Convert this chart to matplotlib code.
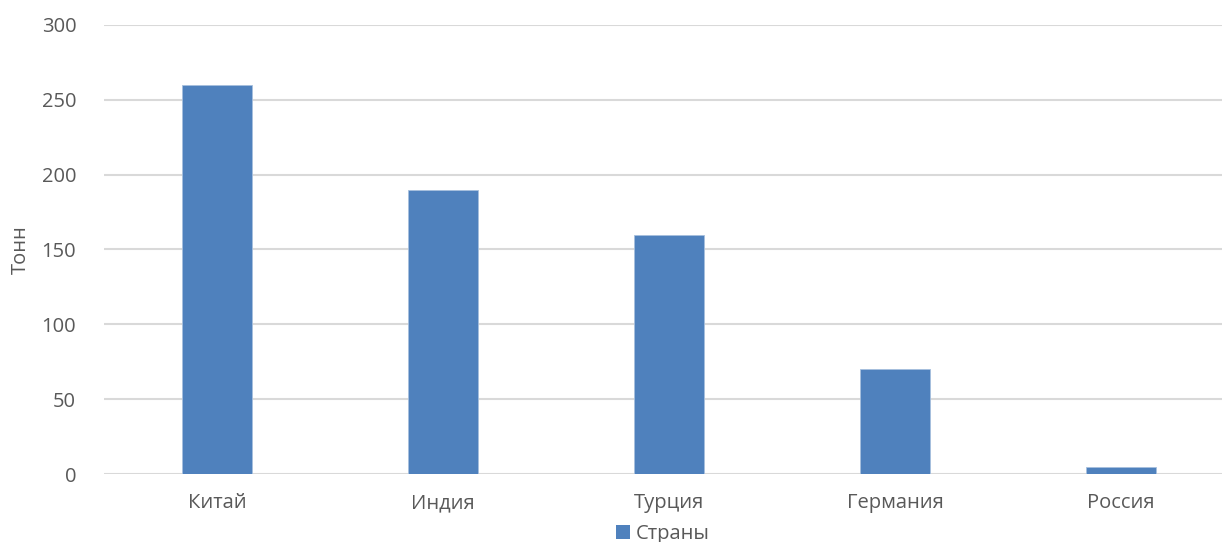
import numpy as np
import matplotlib
matplotlib.use("Agg")
import matplotlib.pyplot as plt
from matplotlib.patches import Patch

countries = ["Китай", "Индия", "Турция", "Германия", "Россия"]
tonnes = [260, 190, 160, 70, 5]
series_name = "Страны"
y_label = "Тонн"

BAR = "#4F81BD"
TEXT = "#595959"
GRID = "#D9D9D9"

plt.rcParams["font.family"] = ["Open Sans", "DejaVu Sans"]

W, H = 1222, 542
fig = plt.figure(figsize=(W / 100, H / 100), dpi=100)
# plot area in pixels: x 104..1234 (cropped at right), y 25..474
ax = fig.add_axes([104 / W, (H - 474) / H, 1130 / W, 449 / H])

x = np.arange(len(countries))
ax.bar(x, tonnes, width=0.314, color=BAR, edgecolor="#A7C0DE", linewidth=0.6, zorder=3)

ax.set_xlim(-0.5, len(countries) - 0.5)
ax.set_ylim(0, 300)
ax.set_yticks(np.arange(0, 301, 50))
ax.yaxis.grid(True, color=GRID, lw=1.5, zorder=0)
ax.set_axisbelow(True)
for s in ax.spines.values():
    s.set_visible(False)
ax.tick_params(length=0, labelsize=14.5, colors=TEXT)
ax.tick_params(axis="y", pad=20)
ax.tick_params(axis="x", pad=14)
ax.set_xticks(x)
ax.set_xticklabels(countries)
ax.set_ylabel(y_label, fontsize=14.5, color=TEXT, labelpad=8)

handle = Patch(facecolor=BAR, edgecolor="none")
fig.legend([handle], [series_name], loc="center", bbox_to_anchor=(663 / W, 1 - 534 / H),
           frameon=False, fontsize=14.5, labelcolor=TEXT, handlelength=0.7, handleheight=0.7,
           handletextpad=0.3, borderpad=0)

fig.savefig("out.png", dpi=100, facecolor="white")
